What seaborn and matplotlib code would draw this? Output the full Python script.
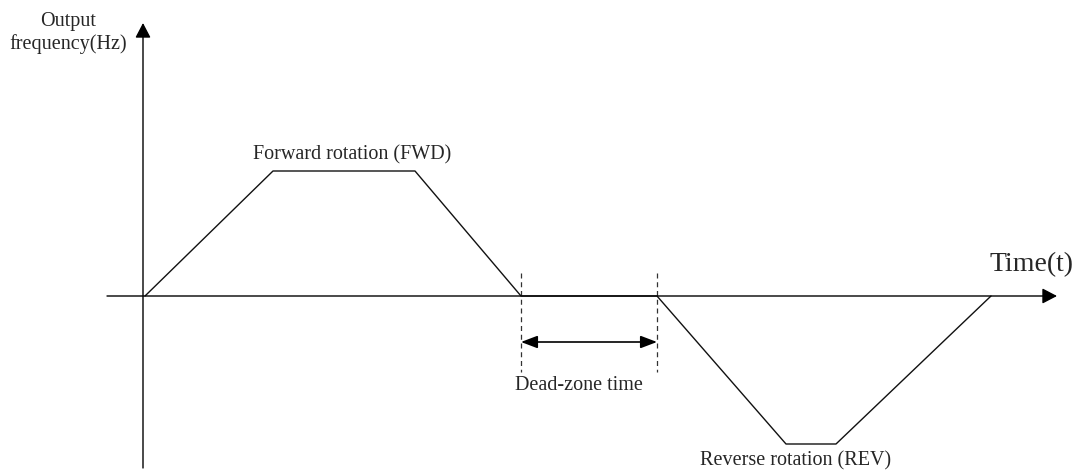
import numpy as np
import pandas as pd
import matplotlib
matplotlib.use('Agg')
import matplotlib.pyplot as plt
import seaborn as sns

# waveform (time, frequency) in arbitrary units, origin at axes crossing
time_pts = [0, 128, 270, 376, 512, 641, 691, 846]
freq_pts = [0, 125, 125, 0, 0, -148, -148, 0]
dead_start = 376
dead_end = 512

labels = {
    'ylabel': 'Output\nfrequency(Hz)',
    'xlabel': 'Time(t)',
    'fwd': 'Forward rotation (FWD)',
    'rev': 'Reverse rotation (REV)',
    'dead': 'Dead-zone time',
}

sns.set_style('white')
plt.rcParams['font.family'] = ['Liberation Serif', 'DejaVu Serif']

fig = plt.figure(figsize=(10.72, 4.7), dpi=100)
ax = fig.add_axes([0, 0, 1, 1])
ax.set_xlim(-145, 927)
ax.set_ylim(-174, 296)
ax.axis('off')

df = pd.DataFrame({'t': time_pts, 'f': freq_pts})
sns.lineplot(data=df, x='t', y='f', sort=False, color='#111111', lw=1.0, ax=ax)

head = dict(arrowstyle='-|>,head_length=0.9,head_width=0.47', color='black', lw=1.0,
            shrinkA=0, shrinkB=0)
# axes
ax.annotate('', xy=(912, 0), xytext=(-38, 0), arrowprops=head)
ax.annotate('', xy=(-2, 273), xytext=(-2, -172), arrowprops=head)

# dead zone markers
for x in [dead_start, dead_end]:
    ax.plot([x, x], [23, -76], ls=(0, (4, 3)), color='#333333', lw=0.9)
ax.annotate('', xy=(dead_start, -46), xytext=(dead_end, -46),
            arrowprops=dict(arrowstyle='<|-|>,head_length=1.0,head_width=0.38', color='black',
                            lw=1.2, shrinkA=0, shrinkB=0))

ax.text(-77, 263, labels['ylabel'], ha='center', va='center', fontsize=14.5, linespacing=1.2)
ax.text(886, 31, labels['xlabel'], ha='center', va='center', fontsize=20)
ax.text(207, 141, labels['fwd'], ha='center', va='center', fontsize=14.5)
ax.text(651, -165, labels['rev'], ha='center', va='center', fontsize=14.5)
ax.text(434, -89, labels['dead'], ha='center', va='center', fontsize=14.5)

fig.savefig('out.png', dpi=100)
